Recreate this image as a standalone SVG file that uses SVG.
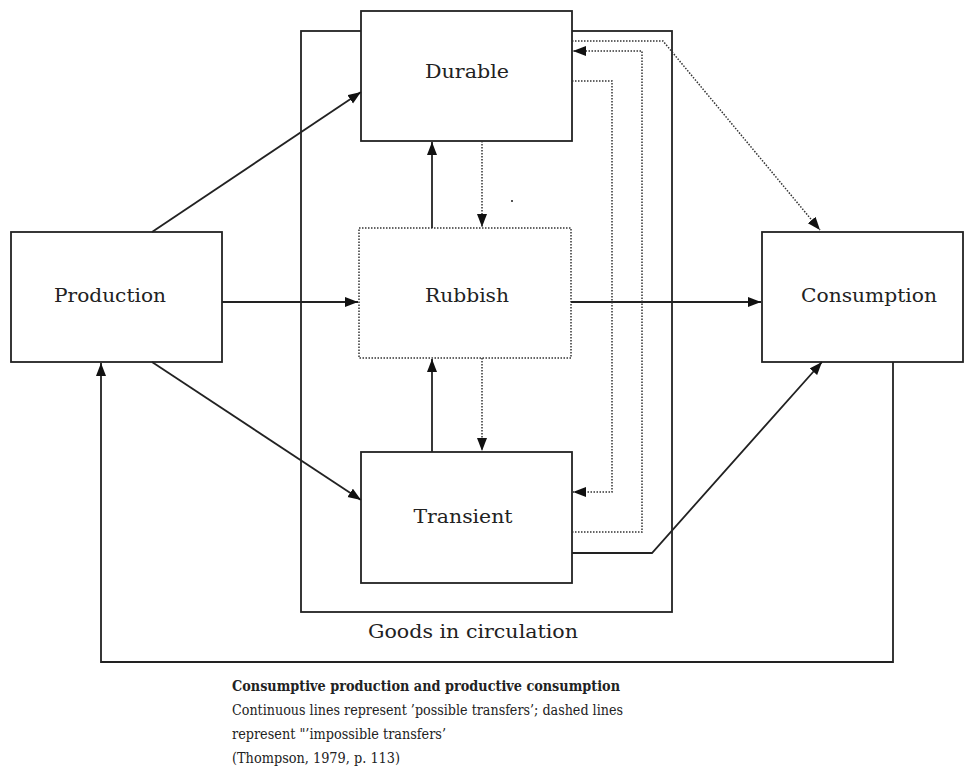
<svg xmlns="http://www.w3.org/2000/svg" width="964" height="773" viewBox="0 0 964 773">
<defs>
<marker id="ah" markerUnits="userSpaceOnUse" markerWidth="14" markerHeight="11" refX="13" refY="5" orient="auto">
<path d="M0,0 L13,5 L0,10 z" fill="#111"/>
</marker>
<style>
.box{fill:#fff;stroke:#222;stroke-width:1.8}
.frame{fill:none;stroke:#222;stroke-width:1.8}
.dbox{fill:#fff;stroke:#333;stroke-width:1.5;stroke-dasharray:1.5 1.5}
.s{fill:none;stroke:#222;stroke-width:1.8}
.d{fill:none;stroke:#333;stroke-width:1.5;stroke-dasharray:1.5 1.5}
.lbl{font-family:"DejaVu Serif","Liberation Serif",serif;font-size:19px;fill:#222;text-anchor:middle}
.cap{font-family:"DejaVu Serif","Liberation Serif",serif;font-size:15.5px;fill:#222}
</style>
</defs>
<rect width="964" height="773" fill="#fff"/>
<g id="goods">
<rect class="frame" x="301" y="31" width="371" height="581"/>
<text class="lbl" x="473" y="638" textLength="210" lengthAdjust="spacingAndGlyphs">Goods in circulation</text>
</g>
<g id="durable">
<rect class="box" x="361" y="11" width="211" height="130"/>
<text class="lbl" x="467" y="78" textLength="84" lengthAdjust="spacingAndGlyphs">Durable</text>
</g>
<g id="rubbish">
<rect class="dbox" x="359" y="228" width="212" height="130"/>
<text class="lbl" x="467" y="302" textLength="84" lengthAdjust="spacingAndGlyphs">Rubbish</text>
</g>
<g id="transient">
<rect class="box" x="361" y="452" width="211" height="131"/>
<text class="lbl" x="463" y="523" textLength="99" lengthAdjust="spacingAndGlyphs">Transient</text>
</g>
<g id="production">
<rect class="box" x="11" y="232" width="211" height="130"/>
<text class="lbl" x="110" y="302" textLength="112" lengthAdjust="spacingAndGlyphs">Production</text>
</g>
<g id="consumption">
<rect class="box" x="762" y="232" width="201" height="130"/>
<text class="lbl" x="869" y="302" textLength="136" lengthAdjust="spacingAndGlyphs">Consumption</text>
</g>
<g id="connectors">
<line class="s" x1="222" y1="302" x2="358" y2="302" marker-end="url(#ah)"/>
<line class="s" x1="571" y1="302" x2="761" y2="302" marker-end="url(#ah)"/>
<line class="s" x1="152" y1="232" x2="361" y2="92" marker-end="url(#ah)"/>
<line class="s" x1="152" y1="362" x2="361" y2="500" marker-end="url(#ah)"/>
<polyline class="s" points="572,553 652,553 822,362" marker-end="url(#ah)"/>
<polyline class="s" points="893,362 893,662 101,662 101,363" marker-end="url(#ah)"/>
<line class="s" x1="432" y1="228" x2="432" y2="142" marker-end="url(#ah)"/>
<line class="s" x1="432" y1="452" x2="432" y2="359" marker-end="url(#ah)"/>
<line class="d" x1="482" y1="141" x2="482" y2="227" marker-end="url(#ah)"/>
<line class="d" x1="482" y1="358" x2="482" y2="451" marker-end="url(#ah)"/>
<polyline class="d" points="572,41 663,41 820,230" marker-end="url(#ah)"/>
<polyline class="d" points="572,532 642,532 642,51 573,51" marker-end="url(#ah)"/>
<polyline class="d" points="572,81 612,81 612,492 573,492" marker-end="url(#ah)"/>
</g>
<rect x="511" y="200" width="2" height="2" fill="#555"/>
<g id="caption">
<text class="cap" x="232" y="691" font-weight="bold" textLength="388" lengthAdjust="spacingAndGlyphs">Consumptive production and productive consumption</text>
<text class="cap" x="232" y="715" textLength="391" lengthAdjust="spacingAndGlyphs">Continuous lines represent ’possible transfers’; dashed lines</text>
<text class="cap" x="232" y="739" textLength="214" lengthAdjust="spacingAndGlyphs">represent "’impossible transfers’</text>
<text class="cap" x="232" y="763" textLength="168" lengthAdjust="spacingAndGlyphs">(Thompson, 1979, p. 113)</text>
</g>
</svg>
